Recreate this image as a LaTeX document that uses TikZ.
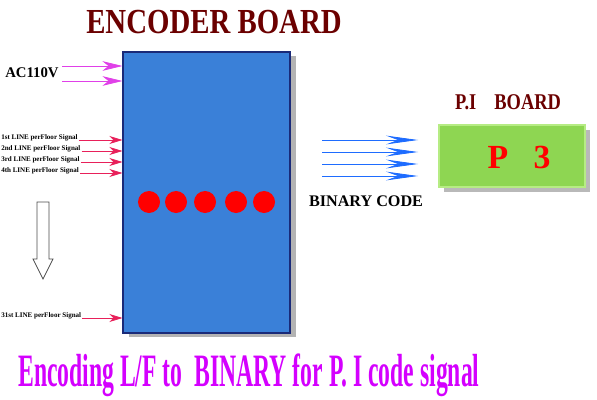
\documentclass[tikz,border=0pt]{standalone}
\usepackage{fontspec}
\setmainfont{Liberation Serif}
\newfontfamily\narrowfont[FakeStretch=0.82]{Liberation Serif}
\newfontfamily\slimfont[FakeStretch=0.51]{Liberation Serif}
\usetikzlibrary{arrows.meta, calc, positioning, shadows}
\definecolor{boardred}{HTML}{6B0000}
\definecolor{encblue}{HTML}{3A80D8}
\definecolor{encedge}{HTML}{1A2A78}
\definecolor{pigreen}{HTML}{8ED652}
\definecolor{piedge}{HTML}{B6EC84}
\definecolor{acpink}{HTML}{E040E8}
\definecolor{sigred}{HTML}{E8205A}
\definecolor{codeblue}{HTML}{1E6CFF}
\definecolor{notemag}{HTML}{D400FF}
\tikzset{
    title/.style={text=boardred, font=\narrowfont\bfseries, inner sep=0pt},
    siglabel/.style={font=\fontsize{5}{6}\selectfont\bfseries, inner sep=0pt, anchor=west},
    acarrow/.style={-{Stealth[length=5mm, width=2.4mm, inset=1.5mm]}, acpink, line width=0.5pt},
    sigarrow/.style={-{Stealth[length=3.3mm, width=2mm, inset=1mm]}, sigred, line width=0.5pt},
    codearrow/.style={-{Stealth[length=8mm, width=2.2mm, inset=3mm]}, codeblue, line width=0.6pt},
    dot/.style={circle, fill=red, inner sep=0pt, minimum size=0.55cm},
}

\begin{document}
\begin{tikzpicture}[x=0.025cm, y=-0.025cm]
    \useasboundingbox (0,0) rectangle (597,400);
    % boards
    \node[title, font=\narrowfont\bfseries\fontsize{25}{28}\selectfont] (enctitle) at (214,22) {ENCODER BOARD};
    \node[rectangle, fill=encblue, draw=encedge, line width=1.4pt,
        minimum width=4.15cm, minimum height=7.0cm,
        drop shadow={shadow xshift=1.5mm, shadow yshift=-1mm, opacity=0.6}] (enc) at (206.5,192.5) {};
    \node[title, font=\narrowfont\bfseries\fontsize{16}{19}\selectfont] (pititle) at (508,102) {P.I\hspace{0.8em}BOARD};
    \node[rectangle, fill=pigreen, draw=piedge, line width=1pt,
        minimum width=3.65cm, minimum height=1.55cm,
        drop shadow={shadow xshift=1.2mm, shadow yshift=-1.2mm, opacity=0.55}] (pi) at (512,156) {};
    \node[text=red, font=\bfseries\fontsize{24}{27}\selectfont, inner sep=0pt] (p3) at (519,157) {P\hspace{0.75em}3};
    % dots
    \foreach \dx [count=\i] in {149,176,205,236,264}
        \node[dot] (dot\i) at (\dx,202) {};
    % power input
    \node[font=\bfseries\fontsize{10.5}{12}\selectfont, inner sep=0pt, anchor=west] (ac) at (5,73) {AC110V};
    \coordinate (ac1) at (62,66);
    \coordinate (ac2) at (62,81);
    \draw[acarrow] (ac1) -- (enc.west |- ac1);
    \draw[acarrow] (ac2) -- (enc.west |- ac2);
    % floor signals
    \node[siglabel] (sig1) at (1,138) {1st LINE perFloor Signal};
    \node[siglabel] (sig2) at (1,149) {2nd LINE perFloor Signal};
    \node[siglabel] (sig3) at (1,160) {3rd LINE perFloor Signal};
    \node[siglabel] (sig4) at (1,171) {4th LINE perFloor Signal};
    \node[siglabel] (sig31) at (1,316) {31st LINE perFloor Signal};
    \foreach \s in {sig1,sig2,sig3,sig4,sig31}
        \draw[sigarrow] ($(\s.east)+(1,2)$) -- (enc.west |- {$(\s.east)+(0,2)$});
    % hollow arrow
    \draw[black!70, fill=white, line width=0.5pt]
        (37,202) -- (49,202) -- (49,259) -- (53,259) -- (43,279) -- (33,259) -- (37,259) -- cycle;
    % binary code
    \foreach \cy [count=\i] in {140,152,164,176} {
        \coordinate (cs\i) at (322,\cy);
        \coordinate (ce\i) at (418,\cy);
        \draw[codearrow] (cs\i) -- (ce\i);
    }
    \node[font=\bfseries\fontsize{11.5}{13}\selectfont, inner sep=0pt] (binlbl) at (366,201) {BINARY CODE};
    % note
    \node[text=notemag, font=\slimfont\bfseries\fontsize{33}{36}\selectfont, inner sep=0pt, anchor=west] (note) at (18,375)
        {Encoding L/F to\ \ BINARY for P. I code signal};
\end{tikzpicture}
\end{document}
